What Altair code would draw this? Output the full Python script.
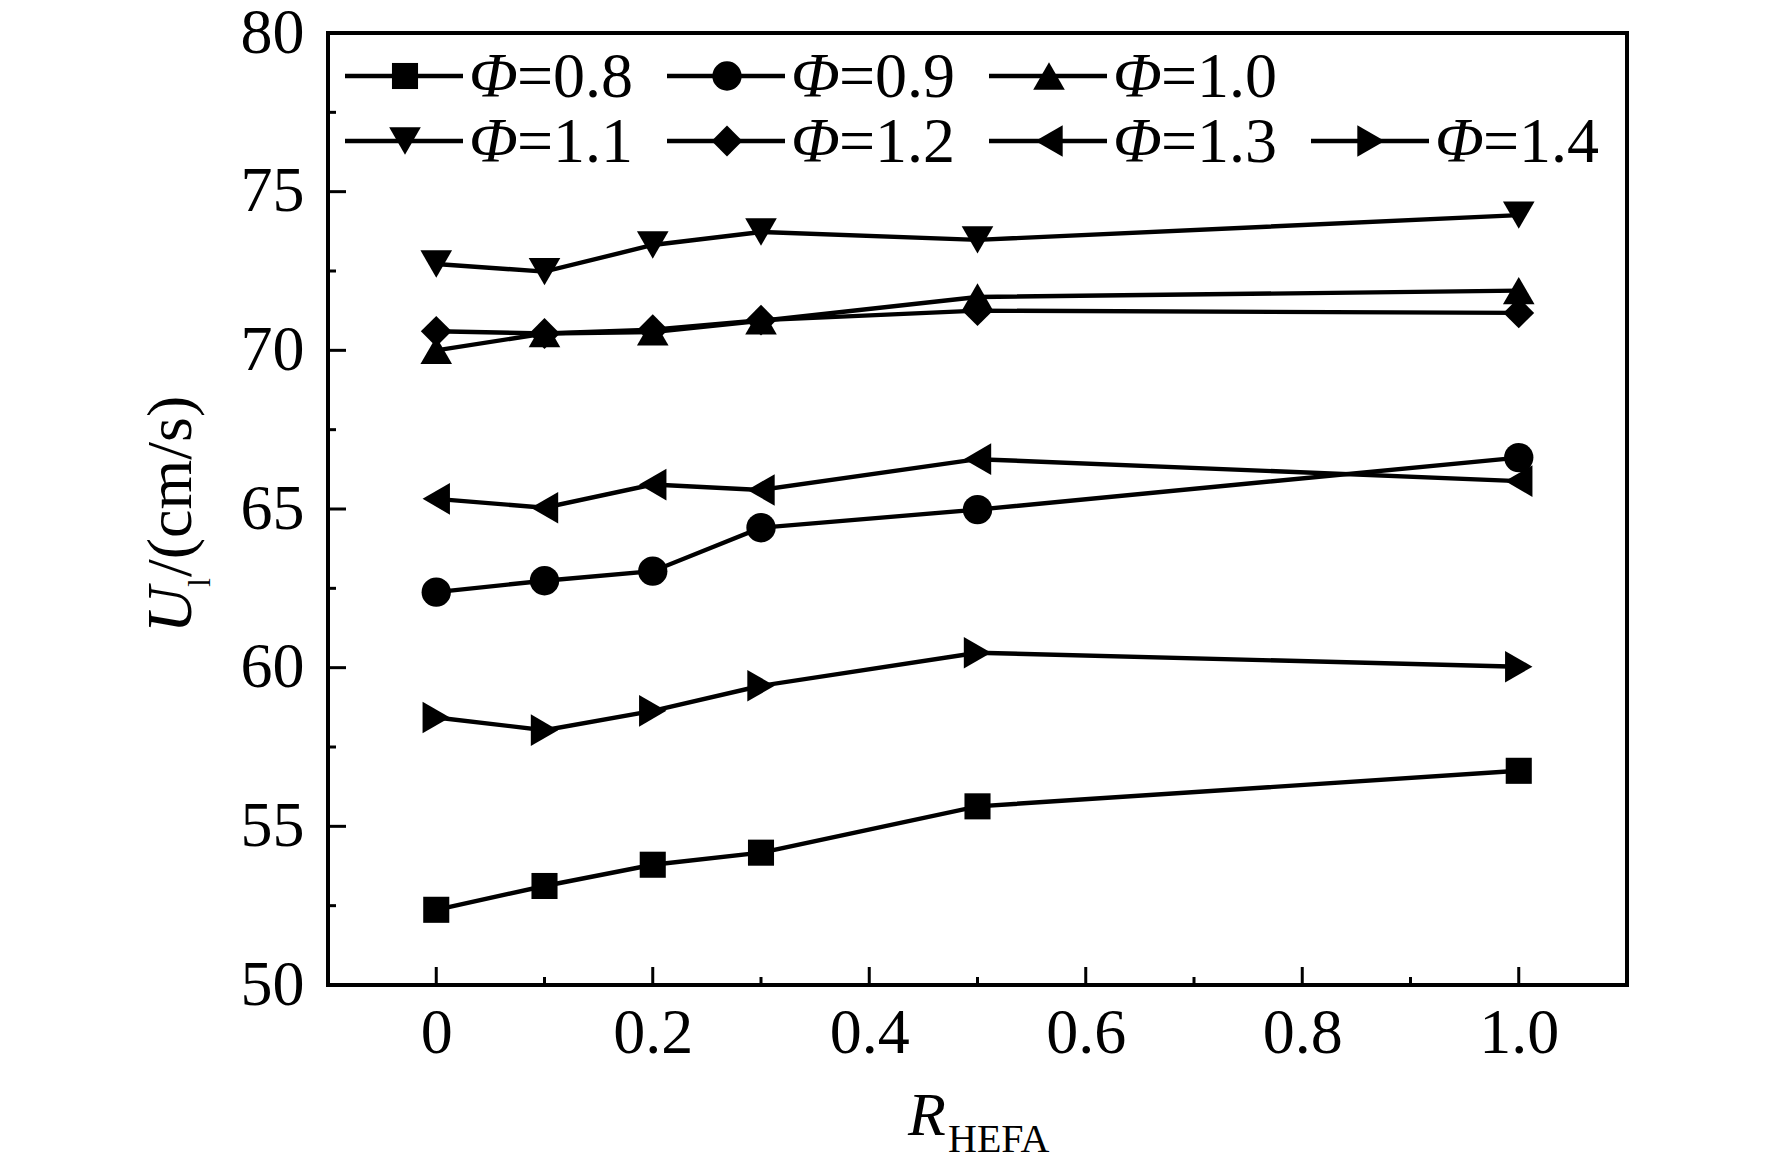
import altair as alt
import pandas as pd

# ---------------- data ----------------
r_hefa = [0, 0.1, 0.2, 0.3, 0.5, 1.0]
phi_labels = ["0.8", "0.9", "1.0", "1.1", "1.2", "1.3", "1.4"]
u_08 = [52.37, 53.12, 53.79, 54.17, 55.63, 56.75]
u_09 = [62.38, 62.74, 63.04, 64.41, 64.98, 66.62]
u_10 = [70.00, 70.53, 70.58, 70.93, 71.68, 71.88]
u_11 = [72.72, 72.48, 73.32, 73.73, 73.48, 74.26]
u_12 = [70.60, 70.53, 70.65, 70.95, 71.25, 71.18]
u_13 = [65.32, 65.04, 65.77, 65.60, 66.57, 65.88]
u_14 = [58.43, 58.03, 58.64, 59.43, 60.47, 60.03]
series = [u_08, u_09, u_10, u_11, u_12, u_13, u_14]

x_major = [0, 0.2, 0.4, 0.6, 0.8, 1.0]
x_minor = [0.1, 0.3, 0.5, 0.7, 0.9]
y_major = [50, 55, 60, 65, 70, 75, 80]
y_minor = [52.5, 57.5, 62.5, 67.5, 72.5, 77.5]

y_title_parts = ["U", "l", "/(cm/s)"]
x_title_parts = ["R", "HEFA"]
legend_symbol = "Φ"

# ---------------- layout / style ----------------
W, H = 1299, 952
FONT = "Liberation Serif"
shapes = ["square", "circle", "triangle-up", "triangle-down", "diamond",
          "triangle-left", "triangle-right"]
sizes = [680, 860, 1000, 1000, 950, 1000, 1000]

rows = []
for lab, vals in zip(phi_labels, series):
    for r, u in zip(r_hefa, vals):
        rows.append({"phi": lab, "r": r, "u": u})
df = pd.DataFrame(rows)

xscale = alt.Scale(domain=[-0.1, 1.1], nice=False, zero=False)
yscale = alt.Scale(domain=[50, 80], nice=False, zero=False)
shape_scale = alt.Scale(domain=phi_labels, range=shapes)
size_scale = alt.Scale(type="ordinal", domain=phi_labels, range=sizes)

xaxis = alt.Axis(values=x_major, title=None, grid=False, domain=False, ticks=False,
                 tickSize=0, labelFontSize=64, labelFont=FONT, labelColor="black",
                 labelPadding=16,
                 labelExpr="datum.value == 0 ? '0' : format(datum.value, '.1f')")
yaxis = alt.Axis(values=y_major, title=None, grid=False, domain=False, ticks=False,
                 tickSize=0, labelFontSize=64, labelFont=FONT, labelColor="black",
                 labelPadding=24, format="d")

lines = alt.Chart(df).mark_line(color="black", strokeWidth=4.4).encode(
    x=alt.X("r:Q", scale=xscale, axis=xaxis),
    y=alt.Y("u:Q", scale=yscale, axis=yaxis),
    detail="phi:N",
    order="r:Q",
)
points = alt.Chart(df).mark_point(filled=True, opacity=1, color="black").encode(
    x="r:Q",
    y="u:Q",
    shape=alt.Shape("phi:N", scale=shape_scale, legend=None),
    size=alt.Size("phi:N", scale=size_scale, legend=None),
)

def xticks(vals, length):
    return alt.Chart(pd.DataFrame({"r": vals})).mark_rule(
        color="black", strokeWidth=3).encode(
        x="r:Q", y=alt.value(H), y2=alt.value(H - length))

def yticks(vals, length):
    return alt.Chart(pd.DataFrame({"u": vals})).mark_rule(
        color="black", strokeWidth=3).encode(
        y="u:Q", x=alt.value(0), x2=alt.value(length))

def txt(s, x, y, size, style="normal", angle=0):
    return alt.Chart(pd.DataFrame({"t": [s]})).mark_text(
        font=FONT, fontSize=size, fontStyle=style, angle=angle, align="left",
        baseline="alphabetic", color="black").encode(
        text="t:N", x=alt.value(x), y=alt.value(y))

# y title (reads bottom to top)
yt = [
    txt(y_title_parts[0], -137, 600, 64, "italic", 270),
    txt(y_title_parts[1], -118, 554, 32, "normal", 270),
    txt(y_title_parts[2], -137, 544, 64, "normal", 270),
]
# x title
xt = [
    txt(x_title_parts[0], 580, 1102, 62, "italic"),
    txt(x_title_parts[1], 620, 1119, 40, "normal"),
]

main = alt.layer(lines, points,
                 xticks(x_major, 18), xticks(x_minor, 8),
                 yticks(y_major, 18), yticks(y_minor, 8),
                 *yt, *xt)

# ---------------- custom legend (3 entries on row 1, 4 on row 2) ----------------
leg = pd.DataFrame({"phi": phi_labels, "idx": list(range(len(phi_labels)))})
pix_x = alt.Scale(domain=[0, W], range=[0, W])
pix_y = alt.Scale(domain=[0, H], range=[0, H])
legbase = alt.Chart(leg).transform_calculate(
    row="datum.idx < 3 ? 0 : 1",
    col="datum.idx < 3 ? datum.idx : datum.idx - 3",
).transform_calculate(
    x0="17 + datum.col * 322",
    x1="17 + datum.col * 322 + 118",
    xs="17 + datum.col * 322 + 60",
    xt="17 + datum.col * 322 + 124",
    xv="17 + datum.col * 322 + 172",
    ly="43 + datum.row * 65",
    yb="64 + datum.row * 65",
    eq="'=' + datum.phi",
)
leg_rule = legbase.mark_rule(color="black", strokeWidth=4.4).encode(
    x=alt.X("x0:Q", scale=pix_x, axis=None),
    x2="x1:Q",
    y=alt.Y("ly:Q", scale=pix_y, axis=None),
)
leg_pt = legbase.mark_point(filled=True, opacity=1, color="black").encode(
    x=alt.X("xs:Q", scale=pix_x, axis=None),
    y=alt.Y("ly:Q", scale=pix_y, axis=None),
    shape=alt.Shape("phi:N", scale=shape_scale, legend=None),
    size=alt.Size("phi:N", scale=size_scale, legend=None),
)
leg_phi = legbase.mark_text(font=FONT, fontSize=64, fontStyle="italic", align="left",
                            baseline="alphabetic", color="black").encode(
    x=alt.X("xt:Q", scale=pix_x, axis=None),
    y=alt.Y("yb:Q", scale=pix_y, axis=None),
    text=alt.value(legend_symbol),
)
leg_val = legbase.mark_text(font=FONT, fontSize=64, align="left",
                            baseline="alphabetic", color="black").encode(
    x=alt.X("xv:Q", scale=pix_x, axis=None),
    y=alt.Y("yb:Q", scale=pix_y, axis=None),
    text="eq:N",
)
legend = alt.layer(leg_rule, leg_pt, leg_phi, leg_val)

chart = alt.layer(main, legend).resolve_scale(
    x="independent", y="independent"
).properties(
    width=W, height=H,
    background="white",
    autosize=alt.AutoSizeParams(type="none"),
    padding={"left": 320, "top": 25, "right": 137, "bottom": 178},
).configure_view(
    stroke="black", strokeWidth=4
)

chart.save("out.html", embed_options={"renderer": "svg", "actions": False})
